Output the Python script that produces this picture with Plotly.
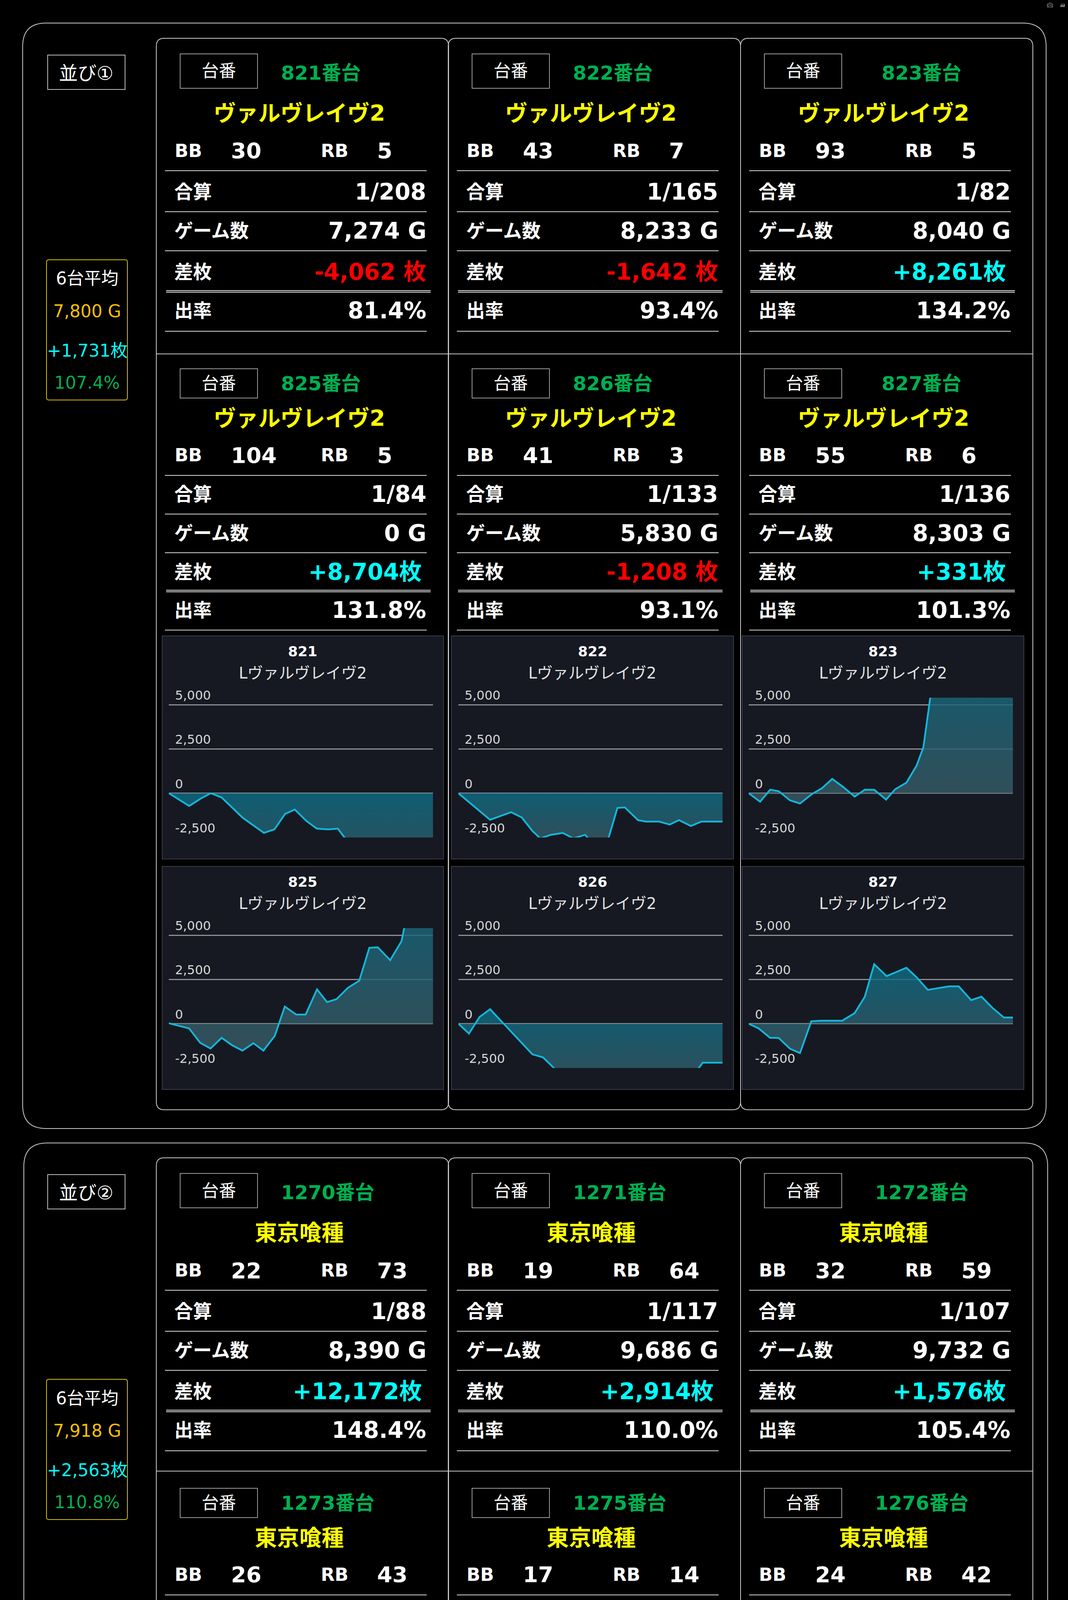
import plotly.graph_objects as go

W, H = 2733, 5764

# ---- 並び① ----
s1_label = "並び①"
s1_name = "ヴァルヴレイヴ2"
s1_sub = "Lヴァルヴレイヴ2"
s1_ids = [821, 822, 823, 825, 826, 827]
s1_bb = [30, 43, 93, 104, 41, 55]
s1_rb = [5, 7, 5, 5, 3, 6]
s1_gosan = [208, 165, 82, 84, 133, 136]
s1_games = [7274, 8233, 8040, 0, 5830, 8303]
s1_diff = [-4062, -1642, 8261, 8704, -1208, 331]
s1_rate = [81.4, 93.4, 134.2, 131.8, 93.1, 101.3]
s1_avg = [7800, 1731, 107.4]

# ---- 並び② ----
s2_label = "並び②"
s2_name = "東京喰種"
s2_sub = "L 東京喰種"
s2_ids = [1270, 1271, 1272, 1273, 1275, 1276]
s2_bb = [22, 19, 32, 26, 17, 24]
s2_rb = [73, 64, 59, 43, 14, 42]
s2_gosan = [88, 117, 107, 116, 146, 109]
s2_games = [8390, 9686, 9732, 0, 4518, 7191]
s2_diff = [12172, 2914, 1576, 107, -3000, 1611]
s2_rate = [148.4, 110.0, 105.4, 100.4, 77.9, 107.5]
s2_avg = [7918, 2563, 110.8]

# ---- 差枚グラフ (x: 進行度%, y: 差枚) ----
x_821 = [0, 7.7, 12.2, 15.9, 20, 28, 36, 40, 44, 47.7, 52, 56, 60.4, 64, 67, 80, 100]
y_821 = [0, -720, -290, 0, -240, -1390, -2240, -2040, -1170, -920, -1560, -2000, -2040, -2000, -2600, -3400, -4062]
x_822 = [0, 12, 20, 24, 28, 31, 35, 39.5, 43.5, 48, 50, 56.5, 60.2, 63, 68, 71, 76, 80, 83.5, 88, 92, 100]
y_822 = [0, -1500, -1070, -1370, -2130, -2550, -2350, -2240, -2550, -2350, -2700, -2700, -830, -800, -1520, -1600, -1600, -1770, -1520, -1850, -1600, -1600]
x_823 = [0, 4.3, 8.1, 11.3, 15.6, 19.4, 24.1, 27.7, 31.6, 35.8, 40.1, 43.9, 47.5, 52, 55.4, 59.7, 63.5, 66.1, 68.9, 75, 100]
y_823 = [0, -480, 200, 120, -400, -580, -30, 280, 810, 350, -190, 200, 200, -360, 220, 600, 1550, 2590, 5600, 7500, 8261]
x_825 = [0, 3.8, 7.7, 11.9, 15.8, 20, 24.1, 27.9, 32, 35.8, 40.1, 43.9, 48.2, 51.8, 56.1, 59.9, 63.5, 67.8, 72.1, 75.9, 79.1, 83.8, 88.1, 89.5, 95, 100]
y_825 = [30, -110, -270, -1080, -1400, -800, -1230, -1520, -1100, -1520, -690, 970, 520, 520, 1940, 1220, 1390, 2030, 2430, 4290, 4320, 3590, 4670, 5700, 7500, 8704]
x_826 = [0, 4, 8, 12, 28, 32, 36.5, 60, 90, 92.5, 100]
y_826 = [0, -560, 380, 820, -1730, -1900, -2550, -3500, -2700, -2200, -2200]
x_827 = [0, 3.8, 8.1, 11.3, 15.6, 19.4, 23.7, 27.3, 35.4, 40.1, 43.9, 47.5, 52.2, 59.7, 63.5, 67.8, 71.6, 75.9, 79.5, 84.2, 88.1, 92.3, 96.6, 100]
y_827 = [0, -270, -800, -800, -1410, -1660, 140, 170, 170, 600, 1510, 3360, 2690, 3160, 2630, 1910, 2010, 2110, 2110, 1330, 1530, 890, 350, 350]

x_1270 = [0, 3.8, 8.1, 11.9, 15.8, 19.8, 23.7, 27, 35, 100]
y_1270 = [0, 100, 400, 1570, 1820, 3500, 4270, 5700, 8000, 12172]
x_1271 = [0, 3.6, 7.7, 11.5, 15.8, 20, 24.3, 28.1, 31.8, 36.2, 42, 48.2, 52, 53.5, 60, 72.3, 76.1, 79.7, 84, 87.8, 92.1, 96.4, 100]
y_1271 = [0, 250, 540, 2080, 2920, 4330, 3830, 3040, 3830, 5600, 6000, 5500, 4960, 5600, 5800, 5500, 5080, 4830, 4140, 3750, 3500, 3040, 2960]
x_1272 = [0, 4.3, 7.7, 11.3, 15.6, 19.4, 24.1, 27.7, 31.6, 36.2, 40.1, 43.9, 47.5, 52.2, 55.4, 59.7, 63.5, 67.8, 71.6, 75.9, 80.1, 83.8, 88.1, 91.9, 96.2, 100]
y_1272 = [0, 710, 580, 580, 170, 250, -20, -100, -710, -1330, -1500, -1790, -1830, -2270, -2250, -1500, -320, -880, -1020, -330, 520, 520, 380, 1380, 1920, 1630]
x_1273 = [0, 11.9, 15.6, 19.2, 24.1, 27.3, 31.1, 35.8, 40.1, 43.9, 48.2, 51.8, 55.4, 59.9, 64, 67.8, 71.6, 75.9, 79.5, 83.8, 87.4, 91.3, 100]
y_1273 = [0, 1930, 1990, 1880, 1680, 1680, 1680, 1300, 1090, 990, 430, 110, 160, 1680, 2340, 2190, 1760, 1010, 840, 340, 160, 110, 110]
x_1275 = [0, 3.6, 7.7, 11.5, 15.8, 20, 23.9, 27.5, 31.8, 36, 40.3, 44.6, 48.2, 52, 55.7, 60.1, 63.8, 67, 80, 100]
y_1275 = [0, -120, -530, -910, -1120, -1700, -1730, -1780, -1510, -1260, -1530, -1830, -1930, -1930, -2030, -1620, -2030, -2550, -3000, -3000]
x_1276 = [0, 4.3, 8.1, 11.3, 15.6, 19.8, 23.7, 27.7, 31.6, 35.8, 39.7, 43.9, 47.5, 52.2, 56, 60.3, 64, 67.8, 72.1, 75.9, 80.2, 84.2, 88.1, 92.3, 100]
y_1276 = [0, 90, 260, 260, -120, -450, -910, -1280, -1030, -660, -740, -1370, -1450, -1870, -1450, -2030, -2140, -2450, -1660, -740, 380, 2080, 2050, 1630, 1630]

y_ticks = [-2500, 0, 2500, 5000]
y_ticktext = ["-2,500", "0", "2,500", "5,000"]

sections = [
    dict(label=s1_label, name=s1_name, sub=s1_sub, ids=s1_ids, bb=s1_bb, rb=s1_rb,
         gosan=s1_gosan, games=s1_games, diff=s1_diff, rate=s1_rate, avg=s1_avg,
         series=[(x_821, y_821), (x_822, y_822), (x_823, y_823),
                 (x_825, y_825), (x_826, y_826), (x_827, y_827)]),
    dict(label=s2_label, name=s2_name, sub=s2_sub, ids=s2_ids, bb=s2_bb, rb=s2_rb,
         gosan=s2_gosan, games=s2_games, diff=s2_diff, rate=s2_rate, avg=s2_avg,
         series=[(x_1270, y_1270), (x_1271, y_1271), (x_1272, y_1272),
                 (x_1273, y_1273), (x_1275, y_1275), (x_1276, y_1276)]),
]

# ---- レイアウト (px, 並び①基準) ----
SEC_OFF = 2866
OUTER = [(58, 59, 2677, 2889), (61, 2926, 2681, 5737)]
CARD_Y = [(98, 2841), (2964, 5690)]
SEP_Y = [906, 3766]
COL_X = [400, 1147, 1895]
COL_W = 748
ROWS = [
    dict(box=(138, 226), ban=187, name=290, bb=386, vals=[491, 591, 696, 795], lines=[437, 542, 642, 746, 848]),
    dict(box=(944, 1019), ban=982, name=1071, bb=1165, vals=[1265, 1365, 1464, 1562], lines=[1217, 1316, 1415, 1513, 1613]),
]
PANEL_X = [(415, 1135), (1155, 1877), (1899, 2620)]
PANEL_Y = [(1628, 2199), (2218, 2789)]
PLOT_X = [(432, 1108), (1173, 1849), (1916, 2592)]
PLOT_Y = [(1786, 2144), (2376, 2734)]

CARD_FONT = "DejaVu Sans, Noto Sans CJK JP"
GREEN = "#00b050"
LINE_C = "#d8d8d8"
BORDER = "#c8c8c8"

fig = go.Figure()


def X(v):
    return v / W


def Y(v):
    return 1 - v / H


def rounded(x0, y0, x1, y1, r, color, width=2, fill="rgba(0,0,0,0)"):
    p = (f"M {X(x0 + r)},{Y(y0)} L {X(x1 - r)},{Y(y0)} Q {X(x1)},{Y(y0)} {X(x1)},{Y(y0 + r)} "
         f"L {X(x1)},{Y(y1 - r)} Q {X(x1)},{Y(y1)} {X(x1 - r)},{Y(y1)} "
         f"L {X(x0 + r)},{Y(y1)} Q {X(x0)},{Y(y1)} {X(x0)},{Y(y1 - r)} "
         f"L {X(x0)},{Y(y0 + r)} Q {X(x0)},{Y(y0)} {X(x0 + r)},{Y(y0)} Z")
    fig.add_shape(type="path", path=p, xref="paper", yref="paper",
                  line=dict(color=color, width=width), fillcolor=fill, layer="below")


def rect(x0, y0, x1, y1, color, width=2, fill="rgba(0,0,0,0)"):
    fig.add_shape(type="rect", xref="paper", yref="paper", x0=X(x0), x1=X(x1), y0=Y(y0), y1=Y(y1),
                  line=dict(color=color, width=width), fillcolor=fill, layer="below")


def hline(x0, x1, y, color=LINE_C, width=2):
    fig.add_shape(type="line", xref="paper", yref="paper", x0=X(x0), x1=X(x1), y0=Y(y), y1=Y(y),
                  line=dict(color=color, width=width), layer="below")


def text(x, y, s, size, color="white", bold=False, anchor="center", family=CARD_FONT):
    fig.add_annotation(x=X(x), y=Y(y), xref="paper", yref="paper",
                       text=f"<b>{s}</b>" if bold else s, showarrow=False,
                       xanchor=anchor, yanchor="middle",
                       font=dict(size=size, color=color, family=family))


def fmt_diff(d):
    return f"{d:,} 枚" if d < 0 else f"+{d:,}枚"


n = 2
for s, sec in enumerate(sections):
    off = SEC_OFF * s
    ox0, oy0, ox1, oy1 = OUTER[s]
    rounded(ox0, oy0, ox1, oy1, 60, BORDER)

    # 並び
    rect(122, 141 + off, 320, 229 + off, "#bdbdbd")
    text(221, 187 + off, sec["label"], 48)

    # 6台平均
    rounded(119, 665 + off, 326, 1024 + off, 6, "#d4c000")
    avg_g, avg_d, avg_r = sec["avg"]
    text(223, 713 + off, "6台平均", 44)
    text(223, 796 + off, f"{avg_g:,} G", 44, "#ffc000")
    text(223, 897 + off, f"+{avg_d:,}枚", 44, "#00ffff")
    text(223, 979 + off, f"{avg_r:.1f}%", 44, GREEN)

    cy0, cy1 = CARD_Y[s]
    for c in range(3):
        rounded(COL_X[c], cy0, COL_X[c] + COL_W, cy1, 20, BORDER)
    hline(COL_X[0], COL_X[2] + COL_W, SEP_Y[s], BORDER)

    for k in range(6):
        r, c = divmod(k, 3)
        cx = COL_X[c]
        R = ROWS[r]
        b0, b1 = R["box"]
        rect(cx + 61, b0 + off, cx + 259, b1 + off, "#9a9a9a")
        text(cx + 160, (b0 + b1) / 2 + off, "台番", 44)
        ban = f"{sec['ids'][k]}番台"
        if c < 2:
            text(cx + 317, R["ban"] + off, ban, 50, GREEN, True, "left")
        else:
            text(cx + 463, R["ban"] + off, ban, 50, GREEN, True)
        text(cx + 366, R["name"] + off, sec["name"], 57, "#ffff00", True)

        yb = R["bb"] + off
        text(cx + 45, yb, "BB", 46, bold=True, anchor="left")
        text(cx + 189, yb, str(sec["bb"][k]), 56, bold=True, anchor="left")
        text(cx + 419, yb, "RB", 46, bold=True, anchor="left")
        text(cx + 563, yb, str(sec["rb"][k]), 56, bold=True, anchor="left")

        d = sec["diff"][k]
        labels = ["合算", "ゲーム数", "差枚", "出率"]
        values = [f"1/{sec['gosan'][k]}", f"{sec['games'][k]:,} G", fmt_diff(d), f"{sec['rate'][k]:.1f}%"]
        colors = ["white", "white", "#ff0000" if d < 0 else "#00ffff", "white"]
        for j in range(4):
            yv = R["vals"][j] + off
            text(cx + 44, yv, labels[j], 48, bold=True, anchor="left")
            xr = cx + 681 if (j == 2 and d >= 0) else cx + 693
            text(xr, yv, values[j], 58, colors[j], True, "right")
        for j, yl in enumerate(R["lines"]):
            if j == 3:
                hline(cx + 25, cx + 702, yl + off - 2, "#e8e8e8", 2)
                hline(cx + 25, cx + 702, yl + off + 2, "#e8e8e8", 2)
            else:
                hline(cx + 22, cx + 692, yl + off)

        # グラフパネル
        px0, px1 = PANEL_X[c]
        py0, py1 = PANEL_Y[r]
        rect(px0, py0 + off, px1, py1 + off, "#3a3e48", 2, "#161922")
        text((px0 + px1) / 2, py0 + off + 39, str(sec["ids"][k]), 36, "white", True)
        text((px0 + px1) / 2, py0 + off + 95, sec["sub"], 40, "#e2e2e2")

        xs, ys = sec["series"][k]
        fig.add_trace(go.Scatter(
            x=xs, y=ys, xaxis=f"x{n}", yaxis=f"y{n}", mode="lines",
            line=dict(color="#14b6da", width=4.5),
            fill="tozeroy",
            fillgradient=dict(type="vertical",
                              colorscale=[[0, "rgba(57,89,99,0.82)"], [1, "rgba(12,108,132,0.82)"]]),
            hoverinfo="skip", showlegend=False))

        # 目盛ラベル (グリッド線の上、左寄せ)
        for tv, tt in zip(y_ticks, y_ticktext):
            fig.add_annotation(x=0, y=tv, xref=f"x{n} domain", yref=f"y{n}", text=tt,
                               showarrow=False, xanchor="left", yanchor="middle",
                               xshift=14, yshift=24,
                               font=dict(family="DejaVu Sans", size=32, color="#d6d6d6"))

        ax0, ax1 = PLOT_X[c]
        ay0, ay1 = PLOT_Y[r]
        fig.layout[f"xaxis{n}"] = dict(domain=[X(ax0), X(ax1)], range=[0, 100], visible=False,
                                       fixedrange=True, anchor=f"y{n}")
        fig.layout[f"yaxis{n}"] = dict(domain=[Y(ay1 + off), Y(ay0 + off)], range=[-2500, 5400],
                                       anchor=f"x{n}", tickvals=y_ticks, showticklabels=False,
                                       showgrid=True, gridcolor="#8c8f96", gridwidth=3,
                                       zeroline=False, showline=False, ticks="",
                                       fixedrange=True)
        n += 1

fig.update_layout(
    template="none",
    width=W, height=H,
    margin=dict(l=0, r=0, t=0, b=0),
    paper_bgcolor="#000000",
    plot_bgcolor="rgba(0,0,0,0)",
    showlegend=False,
)

fig.write_html("out.html", post_script="document.body.style.margin='0';")
